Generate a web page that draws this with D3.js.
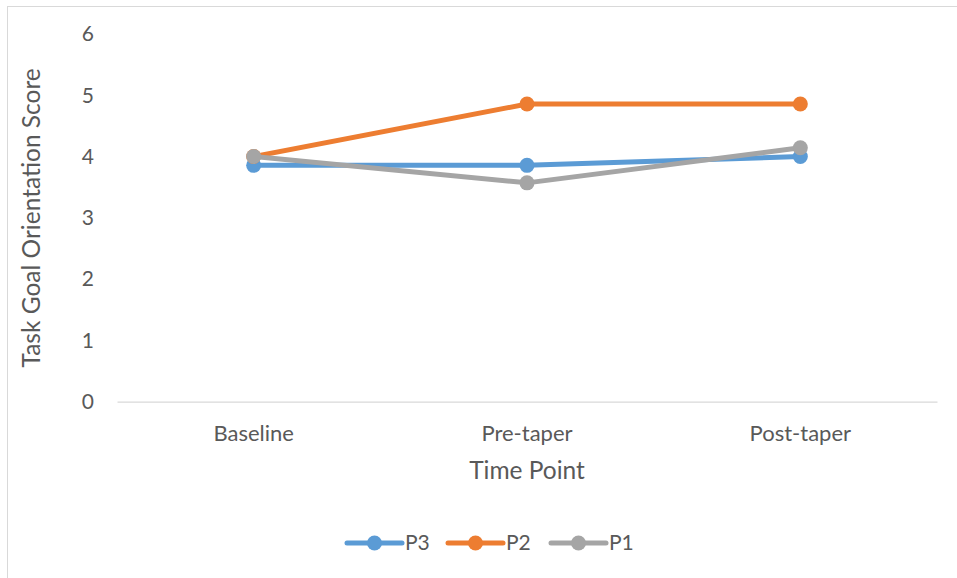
<!DOCTYPE html>
<html>
<head>
<meta charset="utf-8">
<script src="https://cdn.jsdelivr.net/npm/d3@7"></script>
<style>
  html, body { margin: 0; padding: 0; background: #fff; }
  svg { display: block; font-family: Lato, "Open Sans", sans-serif; }
</style>
</head>
<body>
<svg id="chart" width="957" height="578"></svg>
<script>
// Time points on the x axis
const categories = ["Baseline", "Pre-taper", "Post-taper"];
// Task goal orientation score for each participant
const p3Values = [3.857, 3.857, 4.0];
const p2Values = [4.0, 4.857, 4.857];
const p1Values = [4.0, 3.571, 4.143];
const seriesNames = ["P3", "P2", "P1"];
const seriesColors = ["#5B9BD5", "#ED7D31", "#A5A5A5"];
const yTicks = [0, 1, 2, 3, 4, 5, 6];

const series = [
  { name: seriesNames[0], values: p3Values, color: seriesColors[0] },
  { name: seriesNames[1], values: p2Values, color: seriesColors[1] },
  { name: seriesNames[2], values: p1Values, color: seriesColors[2] }
];

const svg = d3.select("#chart");
const W = 957, H = 578;
const textColor = "#595959";

// Outer chart-area border
svg.append("rect")
  .attr("x", 7.5).attr("y", 6.5)
  .attr("width", W - 7).attr("height", H - 6)
  .attr("fill", "#fff").attr("stroke", "#D9D9D9").attr("stroke-width", 1);

const plot = { left: 117, right: 937, top: 34, bottom: 401.7 };

const x = d3.scaleBand().domain(categories).range([plot.left, plot.right]);
const y = d3.scaleLinear().domain([0, 6]).range([plot.bottom, plot.top]);

// Y axis tick labels (no axis line or gridlines)
const yAxis = d3.axisLeft(y).tickValues(yTicks).tickSize(0).tickPadding(0).tickFormat(d3.format("d"));
const yg = svg.append("g").attr("transform", `translate(94,0)`).call(yAxis);
yg.select(".domain").remove();
yg.selectAll("text")
  .attr("fill", textColor).attr("font-size", 21)
  .attr("font-family", "Lato, sans-serif");

// X axis: baseline line and category labels
const xAxis = d3.axisBottom(x).tickSize(0).tickPadding(24);
const xg = svg.append("g").attr("transform", `translate(0,${plot.bottom})`).call(xAxis);
xg.select(".domain").attr("stroke", "#D9D9D9").attr("stroke-width", 1.3);
xg.selectAll("text")
  .attr("fill", textColor).attr("font-size", 22)
  .attr("font-family", "Lato, sans-serif");

// Axis titles
svg.append("text")
  .attr("x", x("Pre-taper") + x.bandwidth() / 2).attr("y", 479)
  .attr("text-anchor", "middle").attr("fill", textColor).attr("font-size", 24.5)
  .text("Time Point");

svg.append("text")
  .attr("transform", `translate(40,${(plot.top + plot.bottom) / 2}) rotate(-90)`)
  .attr("text-anchor", "middle").attr("fill", textColor).attr("font-size", 24.5)
  .text("Task Goal Orientation Score");

// Lines and markers
const line = d3.line()
  .x((d, i) => x(categories[i]) + x.bandwidth() / 2)
  .y(d => y(d));

const sg = svg.append("g").selectAll("g").data(series).join("g");
sg.append("path")
  .attr("d", d => line(d.values))
  .attr("fill", "none").attr("stroke", d => d.color)
  .attr("stroke-width", 5).attr("stroke-linejoin", "round").attr("stroke-linecap", "round");
sg.selectAll("circle").data(d => d.values.map(v => ({ v, color: d.color }))).join("circle")
  .attr("cx", (d, i) => x(categories[i]) + x.bandwidth() / 2)
  .attr("cy", d => y(d.v))
  .attr("r", 7.5)
  .attr("fill", d => d.color);

// Legend
const legendX = [347, 448, 551];
const lg = svg.append("g").selectAll("g").data(series).join("g")
  .attr("transform", (d, i) => `translate(${legendX[i]},543)`);
lg.append("line")
  .attr("x1", 0).attr("x2", 55).attr("y1", 0).attr("y2", 0)
  .attr("stroke", d => d.color).attr("stroke-width", 5).attr("stroke-linecap", "round");
lg.append("circle").attr("cx", 27.5).attr("cy", 0).attr("r", 7.5).attr("fill", d => d.color);
lg.append("text")
  .attr("x", 58).attr("y", 0).attr("dy", "0.35em")
  .attr("fill", textColor).attr("font-size", 21)
  .text(d => d.name);
</script>
</body>
</html>
